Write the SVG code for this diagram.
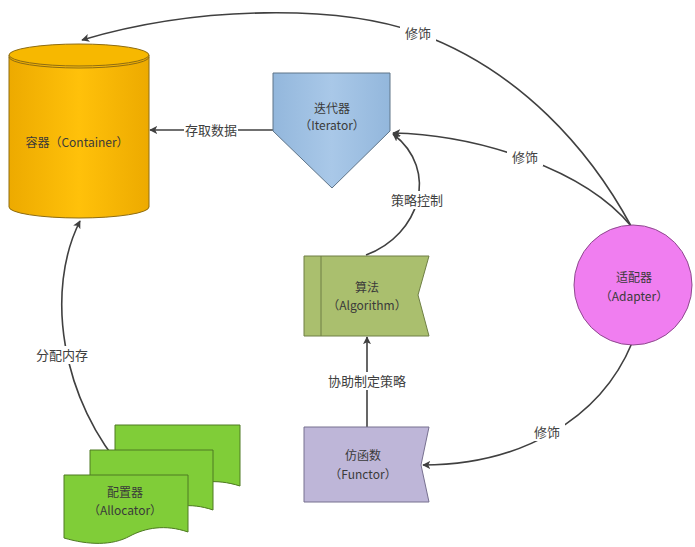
<svg xmlns="http://www.w3.org/2000/svg" width="695" height="547" viewBox="0 0 695 547">
<style>
.node text{font-family:"Noto Sans CJK SC","Noto Sans",sans-serif;font-size:12px;fill:#3a3a3a;text-anchor:middle}
.edge{fill:none;stroke:#404040;stroke-width:1.6}
.lbl{font-family:"Noto Sans CJK SC","Noto Sans",sans-serif;font-size:13px;fill:#404040;text-anchor:middle}
.bg{fill:#ffffff}
</style>
<defs>
<marker id="ah" viewBox="0 0 10 10" refX="9" refY="5" markerWidth="8" markerHeight="8" markerUnits="userSpaceOnUse" orient="auto">
<path d="M0,0 L10,5 L0,10 L2.5,5 Z" fill="#404040"/>
</marker>
<linearGradient id="gCyl" x1="0" y1="0" x2="1" y2="0">
<stop offset="0" stop-color="#EDAA00"/><stop offset="0.5" stop-color="#FFC10A"/><stop offset="1" stop-color="#EDAA00"/>
</linearGradient>
<linearGradient id="gIt" x1="0" y1="0" x2="1" y2="0">
<stop offset="0" stop-color="#93B7DC"/><stop offset="0.5" stop-color="#A9C8E8"/><stop offset="1" stop-color="#93B7DC"/>
</linearGradient>
</defs>
<rect width="695" height="547" fill="#ffffff"/>

<g id="connectors">
<path class="edge" d="M631,226 C590,150 520,70 418,33 C340,5 200,5 82,40" marker-end="url(#ah)"/>
<path class="edge" d="M631,226 C585,170 480,135 393,133" marker-end="url(#ah)"/>
<path class="edge" d="M366,255 C420,235 440,170 393,134" marker-end="url(#ah)"/>
<path class="edge" d="M273,130 L150,130" marker-end="url(#ah)"/>
<path class="edge" d="M367,427 L367,337" marker-end="url(#ah)"/>
<path class="edge" d="M632,343 C600,420 520,465 423,465" marker-end="url(#ah)"/>
<path class="edge" d="M128,475 C60,400 45,290 80,221" marker-end="url(#ah)"/>
<rect class="bg" x="400" y="24" width="36" height="18"/>
<text class="lbl" x="418" y="38">修饰</text>
<rect class="bg" x="507" y="148" width="36" height="18"/>
<text class="lbl" x="525" y="162">修饰</text>
<rect class="bg" x="390" y="191" width="54" height="18"/>
<text class="lbl" x="417" y="205">策略控制</text>
<rect class="bg" x="184" y="121" width="54" height="18"/>
<text class="lbl" x="211" y="135">存取数据</text>
<rect class="bg" x="327" y="372" width="80" height="18"/>
<text class="lbl" x="367" y="386">协助制定策略</text>
<rect class="bg" x="529" y="423" width="36" height="18"/>
<text class="lbl" x="547" y="437">修饰</text>
<rect class="bg" x="35" y="346" width="54" height="18"/>
<text class="lbl" x="62" y="360">分配内存</text>
</g>

<g id="container" class="node">
<path d="M9,55 V207 A70,11 0 0 0 149,207 V55 Z" fill="url(#gCyl)" stroke="#8E6C12" stroke-width="1"/>
<ellipse cx="79" cy="55" rx="70" ry="11" fill="#F7B800" stroke="#8E6C12" stroke-width="1"/>
<path d="M9,57 A70,11 0 0 0 149,57" fill="none" stroke="#8E6C12" stroke-width="1"/>
<text x="77" y="147" font-size="13">容器（Container）</text>
</g>

<g id="iterator" class="node">
<path d="M273,73 H390 V131 L332,188 L273,131 Z" fill="url(#gIt)" stroke="#5E7488" stroke-width="1"/>
<text x="332" y="113">迭代器</text>
<text x="332" y="130">（Iterator）</text>
</g>

<g id="algorithm" class="node">
<path d="M304,256 H429 L418,295 L429,336 H304 Z" fill="#AABF6E" stroke="#6F7F45" stroke-width="1"/>
<line x1="321" y1="256" x2="321" y2="336" stroke="#6F7F45" stroke-width="1"/>
<text x="367" y="292">算法</text>
<text x="367" y="310">（Algorithm）</text>
</g>

<g id="functor" class="node">
<path d="M304,427 H429 L421,465 L429,502 H304 Z" fill="#BEB6D8" stroke="#77708F" stroke-width="1"/>
<text x="363" y="460">仿函数</text>
<text x="363" y="479">（Functor）</text>
</g>

<g id="adapter" class="node">
<ellipse cx="633" cy="285" rx="59" ry="60" fill="#F07EF0" stroke="#8F4A8F" stroke-width="1"/>
<text x="634" y="282">适配器</text>
<text x="634" y="301">（Adapter）</text>
</g>

<g id="allocator" class="node">
<path d="M115,425 H240 V486 C215,478 195,482 180,490 C165,498 140,497 115,488 Z" fill="#80CD38" stroke="#4E7A22" stroke-width="1"/>
<path d="M90,450 H213 V510 C190,502 170,506 155,514 C140,522 115,521 90,513 Z" fill="#80CD38" stroke="#4E7A22" stroke-width="1"/>
<path d="M64,475 H188 V532 C165,524 145,528 130,536 C112,546 88,545 64,538 Z" fill="#80CD38" stroke="#4E7A22" stroke-width="1"/>
<text x="125" y="497">配置器</text>
<text x="125" y="515">（Allocator）</text>
</g>
</svg>
